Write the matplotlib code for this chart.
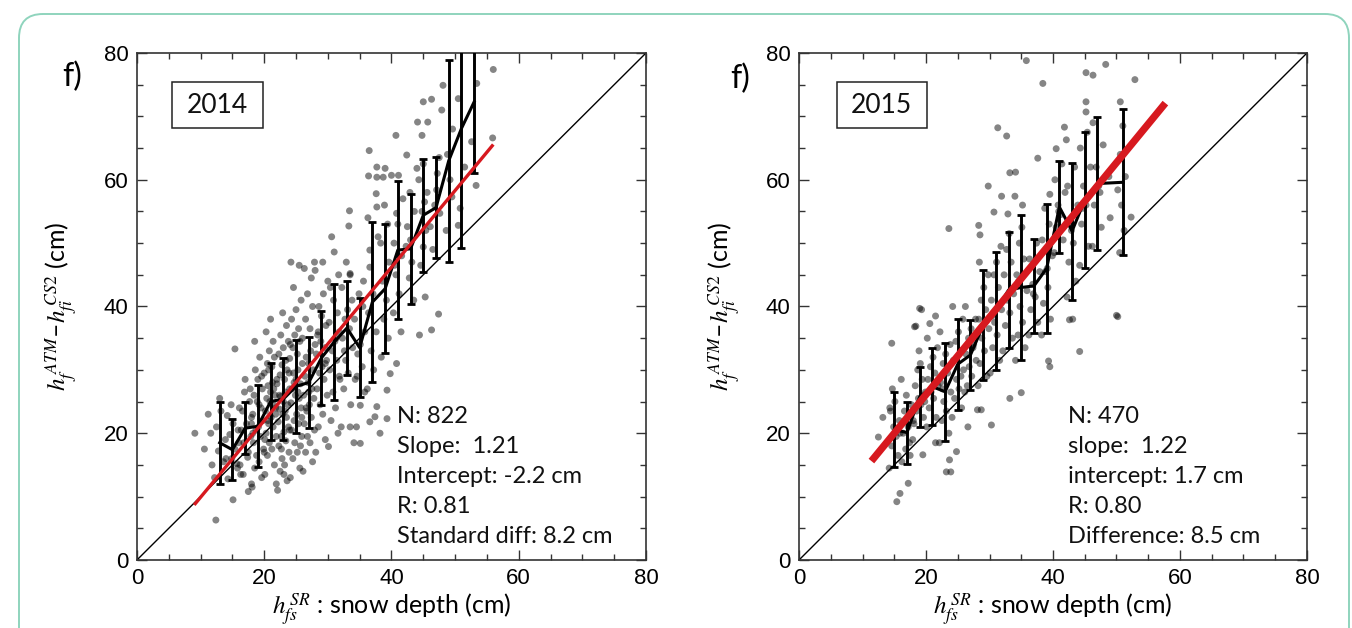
import numpy as np
import matplotlib
matplotlib.use('Agg')
import matplotlib.pyplot as plt
from matplotlib.patches import FancyBboxPatch, Rectangle
from matplotlib.ticker import MultipleLocator
import matplotlib.transforms as mtransforms

plt.rcParams['font.family'] = ['Lato', 'DejaVu Sans']
plt.rcParams['mathtext.fontset'] = 'stix'

# ---- 2014: individual samples (snow radar depth vs ATM-CS2 freeboard diff) ----
x14 = [9.1, 10.6, 11.2, 11.8, 12.4, 12.2, 12.8, 13.2, 13.6, 13.9, 12.5, 14.0, 11.6, 13.0,
       14.3, 15.8, 14.9, 15.4, 16.0, 14.6, 15.1, 15.7, 14.2, 16.3, 15.1, 15.4, 14.8, 15.9,
       16.2, 17.5, 16.8, 17.9, 16.4, 17.2, 18.0, 16.6, 17.7, 16.9, 17.4, 18.2, 16.1, 17.0, 17.5, 18.0, 16.7, 17.8,
       18.1, 19.6, 18.5, 19.2, 18.8, 19.9, 18.3, 19.4, 18.7, 19.1, 19.8, 18.2, 19.5, 18.9, 18.4, 19.7, 19.0, 18.6,
       19.3, 20.0, 18.0, 19.2, 18.5, 19.6,
       20.1, 21.6, 20.5, 21.2, 20.8, 21.9, 20.3, 21.4, 20.7, 21.1, 21.8, 20.2, 21.5, 20.9, 20.4, 21.7, 21.0, 20.6,
       21.3, 22.0, 20.0, 21.2, 20.5, 21.6, 20.8, 21.4, 20.3, 21.0, 21.8, 20.6, 21.5, 20.1, 21.9, 20.7,
       22.1, 23.6, 22.5, 23.2, 22.8, 23.9, 22.3, 23.4, 22.7, 23.1, 23.8, 22.2, 23.5, 22.9, 22.4, 23.7, 23.0, 22.6,
       23.3, 24.0, 22.0, 23.2, 22.5, 23.6, 22.8, 23.4, 22.3, 23.0, 23.8, 22.6, 23.5, 22.9, 24.0, 22.4, 23.3, 23.9,
       22.7, 23.1,
       24.1, 25.6, 24.5, 25.2, 24.8, 25.9, 24.3, 25.4, 24.7, 25.1, 25.8, 24.2, 25.5, 24.9, 24.4, 25.7, 25.0, 24.6,
       25.3, 26.0, 24.0, 25.2, 24.5, 25.6, 24.8, 25.4, 24.3, 25.0, 25.8, 24.6, 25.5, 24.2, 25.9, 24.7, 25.3, 24.1,
       25.7,
       26.1, 27.6, 26.5, 27.2, 26.8, 27.9, 26.3, 27.4, 26.7, 27.1, 27.8, 26.2, 27.5, 26.9, 26.4, 27.7, 27.0, 26.6,
       27.3, 28.0, 26.0, 27.2, 26.5, 27.6, 26.8, 27.4, 26.3, 27.9, 27.0, 26.6,
       28.1, 29.6, 28.5, 29.2, 28.8, 29.9, 28.3, 29.4, 28.7, 29.1, 29.8, 28.2, 29.5, 28.9, 28.4, 29.7, 29.0, 28.6,
       29.3, 30.0, 28.0, 29.2, 28.5, 29.6,
       30.1, 31.6, 30.5, 31.2, 30.8, 31.9, 30.3, 31.4, 30.7, 31.1, 31.8, 30.2, 31.5, 30.9, 30.4, 31.7, 31.0, 30.6,
       31.3, 31.8,
       32.1, 33.6, 32.5, 33.2, 32.8, 33.9, 32.3, 33.4, 32.7, 33.1, 33.8, 32.2, 33.5, 32.9, 33.4, 33.3, 33.5, 32.6,
       34.1, 35.1, 34.5, 35.1, 35.8, 34.3, 35.4, 34.7, 35.1, 35.8, 34.2, 35.5, 34.9, 35.6, 34.6, 33.5,
       36.6, 37.4, 37.7, 36.2, 37.2, 36.8, 37.6, 36.4, 37.1, 36.6, 36.6, 37.9, 36.3, 37.6, 37.7, 36.4, 37.7, 36.5,
       37.7, 38.2,
       38.7, 39.0, 39.3, 39.3, 39.8, 38.4, 39.5, 38.8, 39.2, 38.6, 39.6, 38.3, 39.4, 38.9, 40.0,
       40.8, 41.5, 40.3, 41.2, 40.7, 41.6, 40.4, 41.0, 40.8, 41.1, 40.7, 41.8, 40.5,
       42.5, 42.4, 43.5, 42.8, 43.2, 42.3, 43.6, 42.9, 44.0, 43.0,
       44.4, 45.3, 45.0, 44.6, 45.4, 44.8, 45.6, 44.3, 45.0, 45.0, 44.1, 45.7, 44.8, 45.2,
       46.3, 47.4, 46.1, 47.6, 47.1, 46.3, 47.9, 48.1, 46.5, 47.2, 46.8, 47.5,
       49.5, 48.6, 49.2, 48.8, 49.6,
       50.8, 50.5, 50.5, 51.5,
       53.3, 53.4, 52.6, 56.0, 55.9]
y14 = [20.0, 17.5, 23.0, 15.0, 6.3, 13.0, 17.2, 23.5, 15.5, 19.0, 21.0, 16.0, 20.0, 25.5,
       12.8, 14.5, 16.0, 17.5, 18.5, 19.8, 21.5, 15.2, 22.8, 13.5, 9.5, 33.3, 24.5, 20.5,
       15.0, 17.0, 18.5, 19.5, 20.5, 21.5, 22.5, 23.5, 25.0, 26.5, 16.2, 20.0, 24.0, 28.5, 10.8, 12.0, 13.5, 27.0,
       11.5, 13.0, 14.5, 15.5, 16.5, 17.5, 18.5, 19.5, 20.5, 21.0, 22.0, 23.0, 24.0, 25.0, 26.0, 27.0, 28.5, 30.0,
       32.0, 17.0, 21.5, 24.5, 34.5, 29.0,
       13.5, 15.0, 16.5, 17.5, 18.5, 19.5, 20.0, 21.0, 21.5, 22.5, 23.0, 23.5, 24.5, 25.0, 25.5, 26.0, 26.5, 27.5,
       28.0, 28.5, 29.5, 30.5, 31.0, 32.0, 33.0, 34.5, 36.0, 38.0, 24.0, 22.0, 27.0, 19.0, 12.0, 30.0,
       11.0, 12.5, 14.0, 15.0, 16.0, 17.0, 18.0, 18.8, 19.5, 20.2, 21.0, 21.8, 22.5, 23.0, 23.8, 24.5, 25.0, 25.8,
       26.5, 27.0, 27.8, 28.5, 29.2, 30.0, 30.8, 31.5, 32.5, 33.5, 34.5, 35.5, 37.0, 39.0, 20.5, 26.0, 23.5, 29.5,
       17.5, 13.5,
       13.0, 14.5, 16.0, 17.0, 18.5, 19.5, 20.5, 21.5, 22.0, 23.0, 24.0, 24.8, 25.5, 26.0, 27.0, 27.8, 28.5, 29.5,
       30.0, 31.0, 31.8, 32.5, 33.5, 34.5, 35.5, 36.5, 38.0, 39.5, 41.0, 43.0, 46.5, 47.0, 22.5, 28.0, 26.5, 34.0,
       18.0,
       14.0, 15.5, 17.0, 18.5, 19.5, 20.5, 21.5, 22.5, 23.5, 24.5, 25.5, 26.0, 27.0, 28.0, 29.0, 30.0, 31.0, 32.0,
       33.0, 34.0, 35.0, 36.5, 38.0, 40.0, 42.0, 44.5, 46.0, 47.0, 26.5, 24.0,
       17.0, 19.0, 21.0, 23.0, 24.5, 26.0, 27.0, 28.5, 29.5, 30.5, 31.5, 32.5, 33.5, 34.5, 35.5, 37.0, 38.5, 40.0,
       42.0, 44.0, 45.7, 47.0, 36.0, 31.0,
       17.9, 20.0, 22.0, 24.0, 26.5, 28.5, 30.0, 31.5, 33.0, 34.5, 36.0, 37.5, 39.0, 41.0, 43.0, 45.0, 48.6, 51.0,
       35.0, 29.0,
       21.0, 24.5, 27.0, 29.5, 31.5, 33.5, 35.0, 36.5, 38.0, 39.5, 41.0, 43.0, 45.0, 47.0, 55.1, 52.7, 45.2, 33.0,
       18.5, 18.4, 21.0, 24.4, 26.5, 28.5, 30.5, 32.5, 34.0, 36.0, 38.0, 40.0, 42.0, 44.0, 29.0, 21.0,
       21.8, 22.6, 24.2, 27.0, 30.0, 33.0, 36.0, 39.0, 42.0, 46.2, 48.9, 51.0, 54.0, 57.8, 55.7, 60.6, 60.4, 64.6,
       62.0, 20.0,
       60.4, 61.8, 22.3, 26.8, 29.4, 32.0, 35.0, 38.0, 41.0, 44.0, 47.0, 50.0, 53.0, 56.0, 60.7,
       31.0, 36.0, 39.0, 42.0, 45.0, 48.0, 50.0, 53.0, 54.7, 60.7, 67.0, 57.0, 46.5,
       52.6, 63.9, 41.0, 44.5, 47.0, 49.5, 55.0, 58.0, 61.8, 50.5,
       35.5, 41.5, 49.4, 46.5, 52.0, 55.0, 58.0, 60.0, 62.5, 72.3, 69.1, 69.1, 67.0, 56.5,
       36.3, 38.8, 52.6, 54.7, 58.4, 72.7, 71.0, 74.9, 49.0, 61.0, 56.0, 63.5,
       57.3, 52.0, 60.0, 64.0, 68.0,
       55.5, 52.8, 72.8, 62.0,
       59.1, 75.2, 66.0, 77.4, 66.6]

# 2 cm bins: mean and standard deviation
bins14 = [13, 15, 17, 19, 21, 23, 25, 27, 29, 31, 33, 35, 37, 39, 41, 43, 45, 47, 49, 51, 53]
mean14 = [18.5, 17.4, 20.8, 21.1, 25.0, 25.4, 27.4, 28.0, 31.9, 34.4, 36.6, 33.5, 40.7, 42.8,
          48.9, 49.1, 54.4, 55.6, 63.0, 68.1, 72.3]
std14 = [6.45, 4.8, 4.15, 6.45, 6.05, 6.4, 7.35, 7.2, 7.45, 9.15, 7.4, 7.8, 12.65, 10.2,
         10.85, 8.7, 8.9, 8.0, 15.95, 18.8, 11.2]

# ---- 2015 ----
x15 = [14.2, 15.6, 14.6, 15.3, 14.9, 15.8, 14.4, 15.1, 14.7, 15.9, 14.6, 15.4, 15.9, 14.3,
       16.2, 17.5, 16.8, 17.2, 17.9, 16.4, 17.2, 18.0, 16.6, 17.7, 16.9, 17.4, 16.1, 12.5, 13.2,
       18.2, 18.4, 19.0, 19.3, 19.5, 18.1, 19.6, 18.5, 19.2, 18.8, 19.9, 18.3, 19.4, 18.7, 19.1, 19.8, 18.9,
       20.6, 21.5, 20.1, 21.6, 20.5, 21.2, 20.8, 21.9, 20.3, 21.4, 20.7, 21.1, 21.8, 20.2, 21.5,
       23.6, 23.7, 24.8, 23.2, 23.9, 22.1, 23.6, 22.5, 23.2, 22.8, 23.9, 22.3, 23.4, 22.7, 23.1, 23.8, 22.2, 22.6,
       24.1, 25.6, 24.5, 25.2, 24.8, 25.9, 24.3, 25.4, 24.7, 25.1, 25.8, 24.2, 25.5,
       26.6, 26.1, 26.5, 27.2, 26.8, 27.9, 26.3, 27.4, 26.7, 27.1, 27.8, 26.2, 27.5, 28.7, 28.1,
       30.3, 28.2, 29.6, 28.5, 29.2, 28.8, 29.9, 28.3, 29.4, 28.7, 29.1, 29.8, 28.4, 29.8, 28.3, 28.5,
       30.1, 31.6, 30.5, 31.2, 30.8, 31.9, 30.3, 31.4, 30.7, 31.1, 31.8, 30.7, 31.9, 31.3, 30.4,
       33.2, 32.1, 33.6, 32.5, 33.2, 32.8, 33.9, 32.3, 33.4, 32.7, 33.1, 32.9, 33.2, 32.7, 33.8,
       35.0, 34.1, 35.6, 34.5, 35.2, 34.8, 35.9, 34.3, 35.4, 34.7, 35.1, 34.1, 34.0, 35.2, 35.8, 34.6,
       36.2, 37.6, 36.5, 37.2, 36.8, 37.9, 36.3, 37.4, 37.6, 38.4, 36.9,
       39.5, 39.3, 38.2, 39.6, 38.5, 39.2, 38.8, 39.9, 38.3, 39.4, 38.7, 39.5, 40.5, 39.1,
       40.2, 41.6, 40.5, 41.2, 40.8, 41.9, 40.3, 41.4, 41.8, 42.1, 42.6, 40.9,
       42.2, 43.6, 42.5, 43.2, 42.8, 43.9, 42.3, 43.4, 43.1, 44.2, 42.9,
       44.2, 45.6, 44.5, 45.2, 44.8, 45.9, 44.3, 45.4, 45.2, 45.2, 45.2, 46.3, 44.7,
       46.2, 47.6, 46.5, 47.2, 46.8, 47.9, 46.3, 47.4, 48.3,
       50.2, 50.0, 50.6, 50.2, 52.3, 52.9, 50.5, 51.2, 50.8, 51.4, 50.6, 51.0, 49.0, 48.8]
y15 = [14.5, 16.5, 18.0, 19.5, 21.0, 22.0, 23.5, 25.0, 27.0, 20.0, 34.2, 9.2, 10.5, 24.0,
       15.5, 16.5, 17.5, 12.1, 19.0, 20.0, 21.0, 22.0, 23.5, 24.5, 26.0, 18.5, 28.5, 19.4, 22.5,
       36.8, 36.9, 39.7, 39.5, 16.6, 21.5, 22.5, 23.5, 24.5, 25.5, 26.5, 27.5, 28.5, 30.0, 31.0, 25.0, 33.0,
       37.3, 38.5, 21.0, 22.5, 24.0, 25.5, 26.5, 27.5, 28.5, 29.5, 30.5, 32.0, 33.5, 35.0, 18.5,
       52.3, 15.8, 17.1, 13.9, 13.9, 18.5, 20.0, 22.0, 23.5, 25.0, 26.5, 28.0, 29.5, 31.0, 32.5, 34.0, 36.0, 27.0,
       22.5, 24.0, 25.5, 27.0, 28.5, 30.0, 31.5, 33.0, 34.5, 36.0, 38.0, 40.0, 29.0,
       21.0, 26.5, 27.5, 29.0, 30.5, 31.5, 32.5, 33.5, 35.0, 36.5, 38.0, 40.0, 34.0, 23.7, 23.7,
       21.3, 27.5, 29.0, 31.0, 33.0, 35.0, 36.5, 38.0, 39.5, 41.0, 43.0, 45.0, 47.0, 59.0, 52.8, 51.3,
       29.5, 31.5, 33.5, 35.5, 37.5, 39.5, 41.0, 43.0, 45.0, 47.0, 49.5, 54.9, 57.4, 68.2, 38.5,
       25.5, 33.0, 35.0, 37.0, 39.0, 41.0, 43.0, 45.0, 47.0, 49.0, 51.5, 54.6, 61.1, 66.9, 42.0,
       26.4, 31.5, 33.5, 35.5, 37.5, 40.0, 42.5, 45.0, 47.5, 50.0, 52.5, 61.2, 57.4, 56.0, 78.8, 44.0,
       35.5, 37.5, 39.5, 41.5, 43.5, 45.5, 47.5, 50.0, 63.4, 75.2, 42.0,
       30.5, 31.4, 35.5, 38.0, 40.5, 43.0, 45.5, 48.0, 50.5, 53.0, 55.5, 57.7, 64.9, 46.0,
       48.5, 50.5, 52.5, 54.5, 56.0, 58.0, 60.0, 62.5, 68.3, 66.3, 37.9, 55.0,
       41.5, 44.0, 47.0, 50.0, 53.0, 56.0, 59.0, 62.0, 38.0, 32.9, 52.0,
       46.5, 49.5, 53.0, 56.0, 59.0, 62.0, 65.0, 67.5, 72.3, 70.7, 76.9, 76.5, 55.5,
       49.5, 52.5, 56.0, 59.0, 62.0, 65.5, 69.0, 58.0, 78.2,
       38.4, 38.6, 72.3, 58.4, 54.1, 75.8, 48.5, 52.0, 56.0, 60.5, 64.0, 68.5, 54.0, 60.5]

bins15 = [15, 17, 19, 21, 23, 25, 27, 29, 31, 33, 35, 37, 39, 41, 43, 45, 47, 51]
mean15 = [20.6, 20.1, 25.75, 27.35, 26.55, 30.9, 32.35, 37.05, 39.3, 42.6, 43.0, 43.25, 46.0,
          55.7, 51.9, 56.8, 59.4, 59.6]
std15 = [5.9, 4.9, 4.75, 6.05, 7.75, 7.2, 5.55, 8.65, 9.3, 9.2, 11.5, 7.45, 10.2,
         7.3, 10.8, 10.8, 10.5, 11.5]

# regression statistics printed in each panel
stats14 = {'n': 822, 'slope': 1.21, 'intercept': -2.2, 'r': 0.81, 'diff': 8.2}
stats15 = {'n': 470, 'slope': 1.22, 'intercept': 1.7, 'r': 0.80, 'diff': 8.5}

fig = plt.figure(figsize=(13.52, 6.28), dpi=100)

# rounded frame around the figure
frame = FancyBboxPatch((19, -60), 1330, 674, boxstyle='round,pad=0,rounding_size=24',
                       transform=mtransforms.IdentityTransform(), facecolor='none',
                       edgecolor='#8fd4bd', linewidth=1.4)
fig.add_artist(frame)

ax1 = fig.add_axes([0.1013, 0.1083, 0.3765, 0.8073])
ax2 = fig.add_axes([0.5910, 0.1083, 0.3757, 0.8073])

red = '#d7191f'
panels = [
    (ax1, x14, y14, bins14, mean14, std14, stats14, '2014', (9.0, 56.0), 2.4,
     ['N: {n}', 'Slope:  {slope:.2f}', 'Intercept: {intercept:.1f} cm', 'R: {r:.2f}',
      'Standard diff: {diff:.1f} cm'], 40.8, (5.46, 68.1, 14.3, 7.3)),
    (ax2, x15, y15, bins15, mean15, std15, stats15, '2015', (11.4, 57.7), 5.2,
     ['N: {n}', 'slope:  {slope:.2f}', 'intercept: {intercept:.1f} cm', 'R: {r:.2f}',
      'Difference: {diff:.1f} cm'], 42.3, (5.93, 68.1, 14.15, 7.3)),
]

for ax, xs, ys, bx, bm, bs, st, year, xr, redw, lines, tx, box in panels:
    ax.scatter(xs, ys, s=25, color='black', alpha=0.48, edgecolors='none', zorder=1)
    ax.plot([0, 80], [0, 80], color='black', lw=1.0, zorder=2)
    ax.errorbar(bx, bm, yerr=bs, fmt='-', color='black', lw=2.2, elinewidth=2.1,
                capsize=2.8, capthick=2.0, zorder=3)
    fx = np.array(xr)
    ax.plot(fx, st['slope'] * fx + st['intercept'], color=red, lw=redw,
            solid_capstyle='butt', zorder=4)

    ax.set_xlim(0, 80)
    ax.set_ylim(0, 80)
    ax.xaxis.set_major_locator(MultipleLocator(20))
    ax.yaxis.set_major_locator(MultipleLocator(20))
    ax.xaxis.set_minor_locator(MultipleLocator(5))
    ax.yaxis.set_minor_locator(MultipleLocator(5))
    ax.tick_params(which='both', direction='in', top=True, right=True, width=1.0,
                   color='#333333')
    ax.tick_params(which='major', length=7, labelsize=16, pad=6)
    ax.tick_params(which='minor', length=4)
    for lab in ax.get_xticklabels() + ax.get_yticklabels():
        lab.set_fontfamily('Liberation Sans')
    for sp in ax.spines.values():
        sp.set_linewidth(1.2)
        sp.set_color('#333333')

    ax.set_ylabel(r'$h_{f}^{\,ATM}$–$h_{fi}^{\,CS2}$ (cm)', fontsize=18)
    ax.yaxis.set_label_coords(-0.113, 0.5)
    ax.set_xlabel(r'$h_{fs}^{\,SR}$ : snow depth (cm)', fontsize=18)
    ax.xaxis.set_label_coords(0.5, -0.062)

    ax.add_patch(Rectangle((box[0], box[1]), box[2], box[3], facecolor='white',
                           edgecolor='#222222', lw=1.1, zorder=5))
    ax.text(box[0] + box[2] / 2, box[1] + box[3] / 2, year, fontsize=19,
            ha='center', va='center', color='#111111', zorder=6)

    for i, ln in enumerate(lines):
        ax.text(tx, 22.7 - 4.75 * i, ln.format(**st), fontsize=17, ha='left',
                va='center', color='#111111', zorder=6)

fig.text(72 / 1352, 1 - 77 / 628, 'f)', fontsize=23, ha='center', va='center')
fig.text(740 / 1352, 1 - 79 / 628, 'f)', fontsize=23, ha='center', va='center')

fig.savefig('out.png', dpi=100)
